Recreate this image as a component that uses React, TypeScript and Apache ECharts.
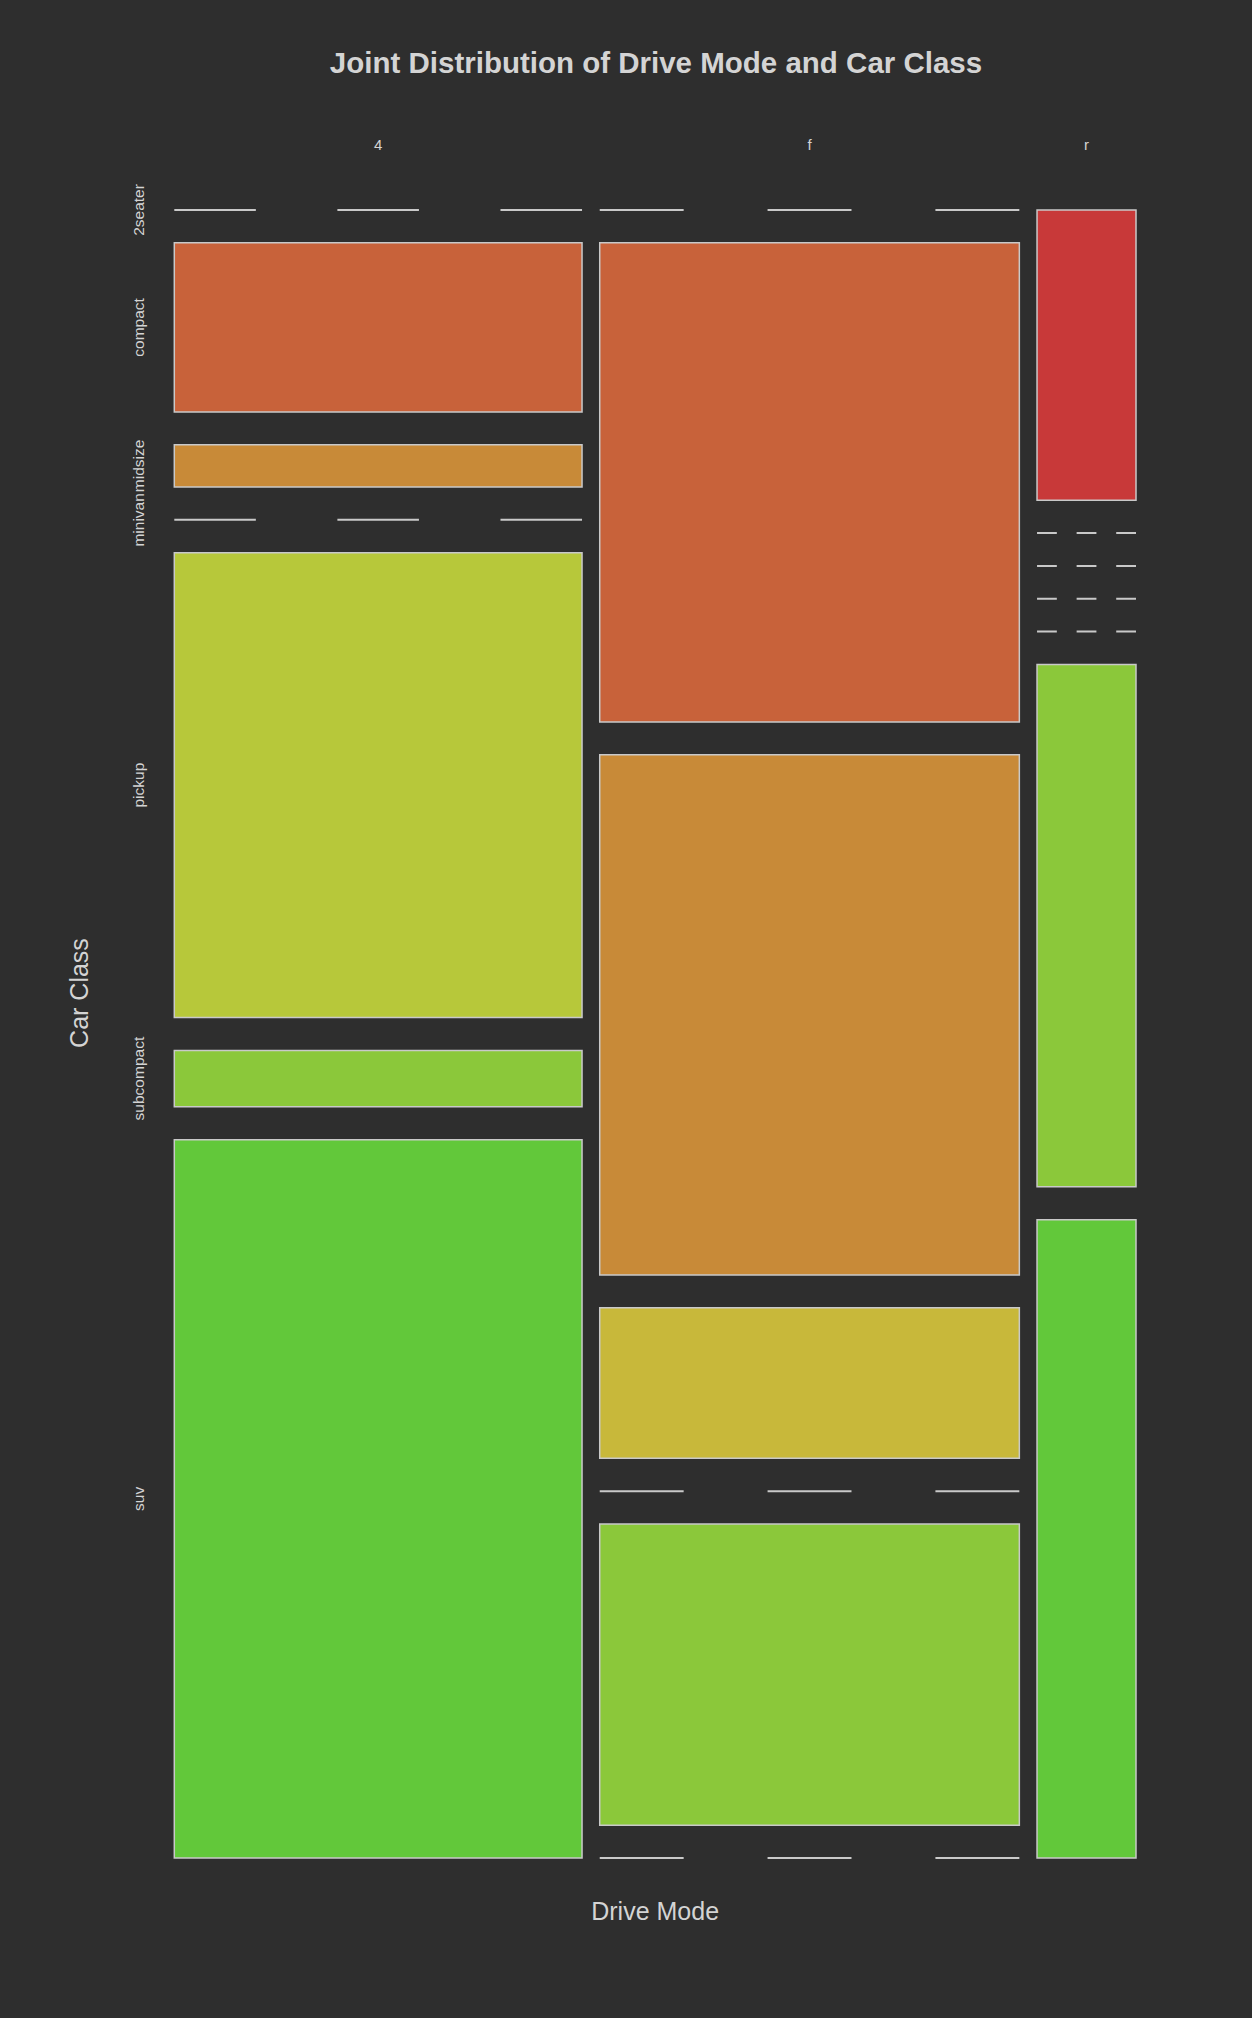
import React, { useEffect, useRef } from "react";
import * as echarts from "echarts";

const drives = ["4", "f", "r"];
const classes = ["2seater", "compact", "midsize", "minivan", "pickup", "subcompact", "suv"];
// counts per class (same order as classes) for each drive mode
const counts4 = [0, 12, 3, 0, 33, 4, 51];
const countsF = [0, 35, 38, 11, 0, 22, 0];
const countsR = [5, 0, 0, 0, 0, 9, 11];
const classColors = ["#C83939", "#C8623A", "#C88A38", "#C8B83A", "#B7C83A", "#8BC83A", "#62C83A"];

const countsByDrive = [counts4, countsF, countsR];

const BG = "#2E2E2E";
const TEXT = "#D4D4D4";
const EDGE = "#C9C9C9";
const FONT = "Liberation Sans, Arial, sans-serif";
const GAP_X = 4.47; // gap between columns in count units
const GAP_Y = 0.02265; // gap between cells in proportion units

export default function App() {
  const ref = useRef<HTMLDivElement>(null);
  useEffect(() => {
    if (!ref.current) return;
    const chart = echarts.init(ref.current, null, { renderer: "svg" });

    const totals = countsByDrive.map((c) => c.reduce((a, b) => a + b, 0));
    const grand = totals.reduce((a, b) => a + b, 0);

    const cells: number[][] = [];
    const driveLabels: (number | string)[][] = [];
    const classLabels: (number | string)[][] = [];
    let xc = 0;
    countsByDrive.forEach((cnts, d) => {
      const x0 = xc;
      const x1 = xc + totals[d];
      driveLabels.push([(x0 + x1) / 2, 0, drives[d]]);
      let yc = 0;
      cnts.forEach((n, c) => {
        const y0 = yc;
        const y1 = yc + n / totals[d];
        cells.push([x0, x1, y0, y1, n, c, d]);
        if (d === 0) classLabels.push([x0, (y0 + y1) / 2, classes[c]]);
        yc = y1 + GAP_Y;
      });
      xc = x1 + GAP_X;
    });

    const option: any = {
      animation: false,
      backgroundColor: BG,
      graphic: [
        {
          type: "text",
          x: 656,
          y: 62,
          style: {
            text: "Joint Distribution of Drive Mode and Car Class",
            fill: TEXT,
            fontSize: 29.5,
            fontWeight: "bold",
            fontFamily: FONT,
            textAlign: "center",
            textVerticalAlign: "middle",
          },
        },
        {
          type: "text",
          x: 79,
          y: 993,
          rotation: Math.PI / 2,
          style: {
            text: "Car Class",
            fill: TEXT,
            fontSize: 25,
            fontFamily: FONT,
            textAlign: "center",
            textVerticalAlign: "middle",
          },
        },
      ],
      grid: { left: 174.3, right: 116, top: 210, bottom: 160, outerBoundsMode: "none" },
      xAxis: {
        type: "value",
        min: 0,
        max: grand + 2 * GAP_X,
        axisLine: { show: false },
        axisTick: { show: false },
        axisLabel: { show: false },
        splitLine: { show: false },
        name: "Drive Mode",
        nameLocation: "middle",
        nameGap: 40,
        nameTextStyle: { color: TEXT, fontSize: 25, fontFamily: FONT },
      },
      yAxis: {
        type: "value",
        inverse: true,
        min: 0,
        max: 1 + (classes.length - 1) * GAP_Y,
        axisLine: { show: false },
        axisTick: { show: false },
        axisLabel: { show: false },
        splitLine: { show: false },
      },
      series: [
        {
          type: "custom",
          clip: false,
          encode: { x: [0, 1], y: [2, 3] },
          data: cells,
          renderItem: (params: any, api: any) => {
            const x0 = api.value(0), x1 = api.value(1), y0 = api.value(2), y1 = api.value(3);
            const n = api.value(4), c = api.value(5);
            const p0 = api.coord([x0, y0]);
            const p1 = api.coord([x1, y1]);
            const left = Math.min(p0[0], p1[0]);
            const w = Math.abs(p1[0] - p0[0]);
            if (n === 0) {
              return {
                type: "line",
                shape: { x1: left, y1: p0[1], x2: left + w, y2: p0[1] },
                style: { stroke: EDGE, lineWidth: 2, lineDash: [w / 5, w / 5] },
              };
            }
            const top = Math.min(p0[1], p1[1]);
            const h = Math.abs(p1[1] - p0[1]);
            return {
              type: "rect",
              shape: { x: left, y: top, width: w, height: h },
              style: { fill: classColors[c], stroke: EDGE, lineWidth: 1.5 },
            };
          },
        },
        {
          type: "custom",
          clip: false,
          silent: true,
          encode: { x: 0, y: 1 },
          data: driveLabels,
          renderItem: (params: any, api: any) => {
            const p = api.coord([api.value(0), api.value(1)]);
            return {
              type: "text",
              x: p[0],
              y: p[1] - 66,
              style: {
                text: drives[params.dataIndex],
                fill: TEXT,
                fontSize: 15,
                fontFamily: FONT,
                textAlign: "center",
                textVerticalAlign: "middle",
              },
            };
          },
        },
        {
          type: "custom",
          clip: false,
          silent: true,
          encode: { x: 0, y: 1 },
          data: classLabels,
          renderItem: (params: any, api: any) => {
            const p = api.coord([api.value(0), api.value(1)]);
            return {
              type: "text",
              x: p[0] - 36,
              y: p[1],
              rotation: Math.PI / 2,
              style: {
                text: classes[params.dataIndex],
                fill: TEXT,
                fontSize: 15.5,
                fontFamily: FONT,
                textAlign: "center",
                textVerticalAlign: "middle",
              },
            };
          },
        },
      ],
    };
    chart.setOption(option);
    return () => chart.dispose();
  }, []);

  return (
    <div
      ref={ref}
      style={{ position: "absolute", left: 0, top: 0, width: 1252, height: 2018 }}
    />
  );
}
